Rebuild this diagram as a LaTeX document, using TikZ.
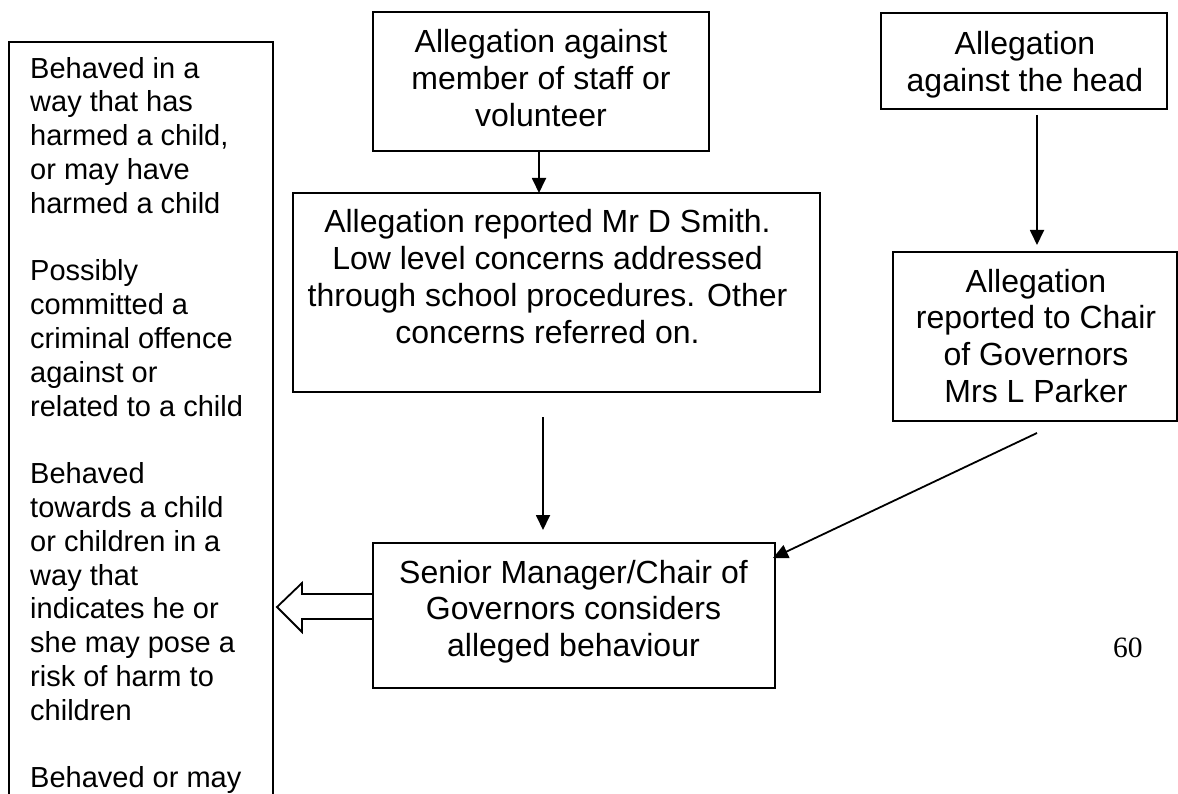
\documentclass[tikz,border=0pt]{standalone}
\usepackage{fontspec}
\setmainfont{Liberation Sans}
\newfontfamily\serifnum{Liberation Serif}
\usetikzlibrary{arrows.meta,calc}
\begin{document}
\begin{tikzpicture}[x=1pt,y=-1pt,
  box/.style={draw, line width=1.8pt, inner sep=0pt, outer sep=0pt},
  txt/.style={align=center, inner sep=0pt, anchor=base, font=\fontsize{32}{36.8}\selectfont},
  arr/.style={line width=1.8pt, -{Triangle[length=15pt,width=14pt]}}]
\useasboundingbox (0,0) rectangle (1178,794);
\clip (0,0) rectangle (1178,794);
% boxes
\node[box, minimum width=264pt, minimum height=790pt] (L) at (141,437) {};
\node[box, minimum width=336pt, minimum height=139pt] (A) at (541,81.5) {};
\node[box, minimum width=527pt, minimum height=199pt] (B) at (556.5,292.5) {};
\node[box, minimum width=286pt, minimum height=96pt] (C) at (1024,61) {};
\node[box, minimum width=284pt, minimum height=169pt] (D) at (1035,336.5) {};
\node[box, minimum width=402pt, minimum height=145pt] (E) at (574,615.5) {};
% texts (anchor base = baseline of last line)
\node[txt] (tA) at (541,126.6) {Allegation against\\member of staff or\\volunteer};
\node[txt] (tB) at (547.5,343.4) {Allegation reported Mr D Smith.\\Low level concerns addressed\\through school procedures. Other\\concerns referred on.};
\node[txt] (tC) at (1025,91.8) {Allegation\\against the head};
\node[txt] (tD) at (1036,402.5) {Allegation\\reported to Chair\\of Governors\\Mrs L Parker};
\node[txt] (tE) at (573.5,656.6) {Senior Manager/Chair of\\Governors considers\\alleged behaviour};
\node[inner sep=0pt, anchor=base west, align=left, font=\fontsize{29}{33.8}\selectfont] (tL) at (30,787.8)
 {Behaved in a\\way that has\\harmed a child,\\or may have\\harmed a child\\[33.8pt]
  Possibly\\committed a\\criminal offence\\against or\\related to a child\\[33.8pt]
  Behaved\\towards a child\\or children in a\\way that\\indicates he or\\she may pose a\\risk of harm to\\children\\[33.8pt]
  Behaved or may};
\node[inner sep=0pt, anchor=base west, font=\serifnum\fontsize{29.5}{34}\selectfont] (pg) at (1113,657) {60};
% connectors
\draw[arr] ([xshift=-2pt]A.south) -- ([xshift=-17.5pt]B.north);
\draw[arr] ([xshift=13pt,yshift=-6pt]C.south) -- ([xshift=2pt,yshift=7pt]D.north);
\draw[arr] ([xshift=-13.5pt,yshift=-25pt]B.south) -- ([xshift=-31pt,yshift=13pt]E.north);
\draw[arr] ([xshift=2pt,yshift=-12pt]D.south) -- ([xshift=-2pt,yshift=-15pt]E.north east);
% hollow block arrow to the left box
\draw[line width=1.8pt, line join=miter] ([yshift=21.5pt]E.west) -- ++(-71,0) -- ++(0,-11) -- ++(-25,24) -- ++(25,25) -- ++(0,-13) -- ++(71,0);
\end{tikzpicture}
\end{document}
